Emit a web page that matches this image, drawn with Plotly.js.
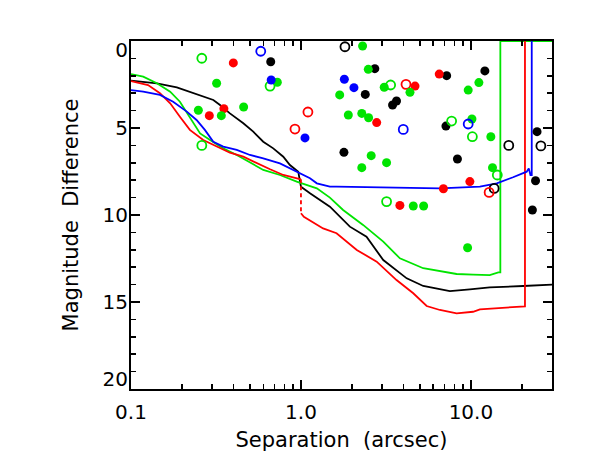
<!DOCTYPE html>
<html>
<head>
<meta charset="utf-8">
<script src="https://cdn.plot.ly/plotly-3.0.1.min.js"></script>
<style>
  html, body { margin: 0; padding: 0; background: #fff; }
  #chart { width: 591px; height: 472px; }
</style>
</head>
<body>
<div id="chart"></div>
<script>
// contrast curves (separation in arcsec, magnitude difference)
const blackSep = [0.100, 0.142, 0.186, 0.222, 0.266, 0.305, 0.334, 0.382, 0.458, 0.524, 0.600, 0.687, 0.787, 0.861, 0.964, 1.00, 1.13, 1.29, 1.48, 1.94, 2.43, 3.05, 4.19, 5.24, 7.52, 9.86, 12.9, 20.3, 30.0];
const blackMag = [2.28, 2.43, 2.66, 2.91, 3.16, 3.39, 3.68, 4.16, 4.73, 5.21, 5.79, 6.17, 6.65, 7.13, 7.51, 8.37, 8.75, 9.14, 9.52, 10.67, 11.25, 12.59, 13.64, 14.08, 14.37, 14.27, 14.16, 14.08, 14.00];

const redSepA = [0.100, 0.126, 0.148, 0.170, 0.194, 0.222, 0.266, 0.319, 0.382, 0.458, 0.548, 0.658, 0.787, 0.964, 1.00];
const redMagA = [2.30, 2.53, 3.00, 3.58, 4.35, 5.11, 5.69, 6.07, 6.42, 6.65, 7.03, 7.37, 7.70, 7.93, 7.95];
const redSepGap = [1.00, 1.00];
const redMagGap = [7.95, 9.90];
const redSepB = [1.00, 1.04, 1.35, 1.62, 2.13, 2.79, 3.65, 4.58, 5.49, 6.57, 8.24, 10.3, 11.3, 14.8, 20.3, 20.8, 20.8];
const redMagB = [9.90, 10.10, 10.77, 11.05, 12.01, 12.68, 13.74, 14.50, 15.23, 15.46, 15.65, 15.56, 15.42, 15.36, 15.27, 15.25, 0];

const greenSep = [0.100, 0.118, 0.142, 0.170, 0.194, 0.222, 0.255, 0.292, 0.349, 0.419, 0.501, 0.600, 0.752, 0.944, 1.24, 1.48, 1.77, 2.32, 3.05, 3.82, 5.24, 6.87, 8.24, 10.3, 12.9, 14.5, 14.9, 14.9, 30.0];
const greenMag = [1.90, 2.05, 2.43, 2.91, 3.49, 4.35, 5.31, 5.69, 6.17, 6.55, 6.99, 7.41, 7.70, 8.08, 8.47, 9.00, 9.71, 10.57, 11.53, 12.49, 13.06, 13.25, 13.39, 13.43, 13.45, 13.30, 13.30, 0, 0];

const blueSep = [0.100, 0.118, 0.148, 0.177, 0.213, 0.243, 0.272, 0.305, 0.349, 0.419, 0.501, 0.600, 0.752, 0.944, 1.13, 1.24, 1.48, 1.62, 3.19, 6.57, 11.3, 14.2, 17.7, 21.3, 21.9, 22.4, 22.8, 22.8];
const blueMag = [2.82, 2.91, 3.10, 3.49, 4.06, 4.54, 5.11, 5.79, 6.07, 6.26, 6.55, 6.74, 7.03, 7.51, 7.89, 8.18, 8.37, 8.37, 8.43, 8.47, 8.37, 8.18, 7.83, 7.51, 7.32, 7.70, 7.70, 0];

// detected companions
const blackFilledSep = [0.664, 2.72, 2.39, 3.46, 3.65, 1.79, 7.20, 12.08, 7.13, 24.5, 8.33, 24.0, 23.0];
const blackFilledMag = [1.19, 1.59, 3.07, 3.68, 3.45, 6.40, 1.99, 1.72, 4.89, 5.21, 6.78, 8.03, 9.71];
const blackOpenSep = [1.815, 16.7, 25.8, 13.7];
const blackOpenMag = [0.33, 6.00, 6.03, 8.47];

const redFilledSep = [0.400, 0.352, 0.289, 4.69, 2.79, 6.51, 9.86, 6.89, 3.82];
const redFilledMag = [1.26, 3.89, 4.29, 2.59, 4.69, 1.90, 8.08, 8.49, 9.45];
const redOpenSep = [1.099, 0.922, 4.15, 12.8];
const redOpenMag = [4.08, 5.06, 2.49, 8.70];

const greenFilledSep = [0.319, 0.726, 0.249, 0.340, 0.460, 2.305, 2.49, 1.69, 3.09, 4.38, 1.90, 2.28, 2.50, 2.59, 2.28, 3.19, 11.14, 9.64, 10.14, 13.1, 13.4, 4.58, 5.27, 9.56];
const greenFilledMag = [2.43, 2.37, 3.98, 4.29, 3.79, 0.29, 1.63, 3.10, 2.66, 2.95, 4.25, 4.16, 4.41, 6.59, 7.28, 6.99, 2.39, 2.82, 4.48, 5.50, 7.28, 9.48, 9.48, 11.88];
const greenOpenSep = [0.261, 0.658, 0.261, 3.37, 7.70, 10.2, 14.3, 3.19];
const greenOpenMag = [0.99, 2.59, 6.00, 2.53, 4.60, 5.50, 7.70, 9.23];

const blueFilledSep = [0.668, 1.056, 1.80, 2.05];
const blueFilledMag = [2.24, 5.57, 2.20, 2.68];
const blueOpenSep = [0.580, 4.00, 9.64];
const blueOpenMag = [0.59, 5.08, 4.77];

const xTickVals = [0.1, 1, 10];
const xTickText = ['0.1', '1.0', '10.0'];
const yTickVals = [0, 5, 10, 15, 20];
const yLabelVals = [0.5, 5, 10, 15, 19.4];
const yTickText = ['0', '5', '10', '15', '20'];

const BLACK = '#000000';
const RED = '#ff0000';
const GREEN = '#00e400';
const BLUE = '#0000ff';

// minor ticks on the log axis: 2..9 in each decade
const xMinor = [];
[0.1, 1, 10].forEach(d => {
    for (let k = 2; k <= 9; k++) {
        if (d * k <= 30) xMinor.push(d * k);
    }
});

function curve(x, y, color, dash) {
    return {
        x: x, y: y, type: 'scatter', mode: 'lines',
        line: { color: color, width: 1.8, dash: dash || 'solid' },
        hoverinfo: 'skip', showlegend: false
    };
}

function dots(x, y, color, open) {
    return {
        x: x, y: y, type: 'scatter', mode: 'markers',
        marker: open
            ? { symbol: 'circle-open', size: 9, color: color, line: { color: color, width: 1.8 } }
            : { symbol: 'circle', size: 9, color: color, line: { width: 0 } },
        cliponaxis: false, showlegend: false
    };
}

const traces = [
    curve(blackSep, blackMag, BLACK),
    curve(greenSep, greenMag, GREEN),
    curve(redSepA, redMagA, RED),
    curve(redSepGap, redMagGap, RED, '4px,3px'),
    curve(redSepB, redMagB, RED),
    curve(blueSep, blueMag, BLUE),
    dots(blackFilledSep, blackFilledMag, BLACK, false),
    dots(blackOpenSep, blackOpenMag, BLACK, true),
    dots(redFilledSep, redFilledMag, RED, false),
    dots(redOpenSep, redOpenMag, RED, true),
    dots(greenFilledSep, greenFilledMag, GREEN, false),
    dots(greenOpenSep, greenOpenMag, GREEN, true),
    dots(blueFilledSep, blueFilledMag, BLUE, false),
    dots(blueOpenSep, blueOpenMag, BLUE, true),
    // empty trace so the label-only axis gets drawn
    { x: [], y: [], type: 'scatter', mode: 'markers', yaxis: 'y2', showlegend: false, hoverinfo: 'skip' }
];

const tickFont = { family: 'DejaVu Sans, sans-serif', size: 20, color: '#000' };
const titleFont = { family: 'DejaVu Sans, sans-serif', size: 21, color: '#000' };

const layout = {
    width: 591,
    height: 472,
    margin: { l: 131, r: 39, t: 41, b: 83 },
    paper_bgcolor: '#fff',
    plot_bgcolor: '#fff',
    font: tickFont,
    showlegend: false,
    xaxis: {
        type: 'log',
        range: [-1, Math.log10(30)],
        tickmode: 'array',
        tickvals: xTickVals,
        ticktext: xTickText,
        ticks: 'inside',
        ticklen: 9,
        tickwidth: 1.5,
        tickcolor: '#000',
        ticklabelstandoff: 4,
        minor: { tickmode: 'array', tickvals: xMinor, ticks: 'inside', ticklen: 5, tickwidth: 1.5, tickcolor: '#000', showgrid: false },
        mirror: 'ticks',
        showline: true,
        linecolor: '#000',
        linewidth: 2,
        showgrid: false,
        zeroline: false,
        tickfont: tickFont,
        title: { text: 'Separation\u00a0 (arcsec)', font: titleFont, standoff: 9 }
    },
    yaxis: {
        range: [20, 0],
        tickmode: 'array',
        tickvals: yTickVals,
        showticklabels: false,
        ticks: 'inside',
        ticklen: 9,
        tickwidth: 1.5,
        tickcolor: '#000',
        minor: { dtick: 1, ticks: 'inside', ticklen: 5, tickwidth: 1.5, tickcolor: '#000', showgrid: false },
        mirror: 'ticks',
        showline: true,
        linecolor: '#000',
        linewidth: 2,
        showgrid: false,
        zeroline: false,
        title: { text: 'Magnitude\u00a0 Difference', font: titleFont, standoff: 45 }
    },
    // label-only axis: IDL pulls the end labels inside the frame
    yaxis2: {
        overlaying: 'y',
        anchor: 'x',
        side: 'left',
        range: [20, 0],
        tickmode: 'array',
        tickvals: yLabelVals,
        ticktext: yTickText,
        ticks: '',
        ticklabelstandoff: 2,
        showline: false,
        showgrid: false,
        zeroline: false,
        tickfont: tickFont
    }
};

Plotly.newPlot('chart', traces, layout, { staticPlot: true, displayModeBar: false });
</script>
</body>
</html>
